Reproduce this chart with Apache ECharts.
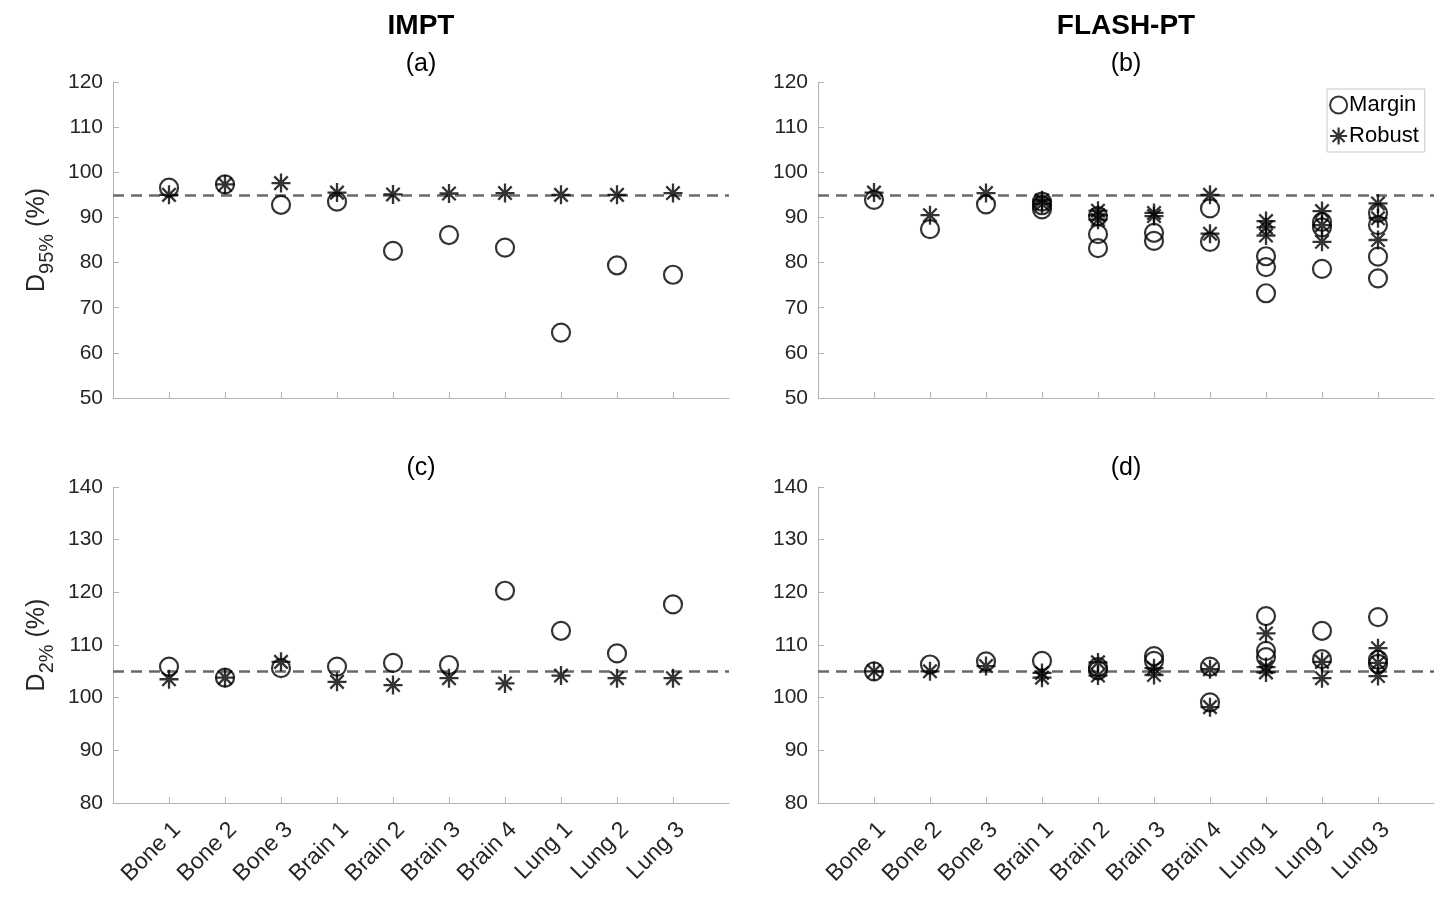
<!DOCTYPE html>
<html>
<head>
<meta charset="utf-8">
<script src="https://cdn.jsdelivr.net/npm/echarts@6/dist/echarts.min.js"></script>
<style>html,body{margin:0;padding:0;background:#fff}#c{width:1439px;height:899px}</style>
</head>
<body>
<div id="c"></div>
<script>
// ---- data ----
const categories = ['Bone 1','Bone 2','Bone 3','Brain 1','Brain 2','Brain 3','Brain 4','Lung 1','Lung 2','Lung 3'];
// (a) IMPT D95%
const imptD95Margin = [96.6, 97.3, 92.8, 93.5, 82.6, 86.1, 83.3, 64.5, 79.4, 77.3];
const imptD95Robust = [95.0, 97.3, 97.6, 95.5, 95.1, 95.3, 95.4, 95.0, 95.0, 95.4];
// (c) IMPT D2%
const imptD2Margin = [105.9, 103.8, 105.6, 105.9, 106.6, 106.2, 120.3, 112.7, 108.4, 117.7];
const imptD2Robust = [103.5, 103.8, 106.8, 103.0, 102.4, 103.7, 102.7, 104.2, 103.7, 103.7];
// (b) FLASH-PT D95% (several values per case)
const flashD95Margin = [[93.9],[87.4],[92.9],[93.5,92.7,91.8],[90.3,86.3,83.2],[86.6,84.8],[92.0,84.6],[81.4,79.0,73.2],[89.0,87.8,78.6],[91.0,88.3,81.3,76.5]];
const flashD95Robust = [[95.5],[90.5],[95.4],[93.8,93.0],[91.5,90.5,89.5],[91.0,90.3],[95.0,86.4],[89.2,87.8,86.0],[91.4,88.3,84.6],[93.1,89.8,85.0]];
// (d) FLASH-PT D2%
const flashD2Margin = [[105.0],[106.3],[106.9],[107.0],[105.8,105.2],[107.9,107.0],[105.9,99.1],[115.5,108.9,107.7],[112.7,107.3],[115.3,107.2,106.4]];
const flashD2Robust = [[105.0],[105.0],[106.0],[104.7,103.8],[106.7,104.2],[105.6,104.3],[105.4,98.2],[112.2,105.8,104.8],[106.8,103.7],[109.4,106.6,104.1]];
const refD95 = 95;
const refD2 = 105;
const yTicksD95 = [50, 120, 10];
const yTicksD2 = [80, 140, 10];

// ---- helpers ----
const FONT = "'Liberation Sans', Arial, Helvetica, sans-serif";
const TXT = '#262626';
const AX = '#b3b3b3';
const STAR = 'path://M0,-10L0,10M-10,0L10,0M-7.07,-7.07L7.07,7.07M-7.07,7.07L7.07,-7.07';
const flat1 = arr => arr.map((v, i) => [i + 1, v]);
const flatN = arr => { const out = []; arr.forEach((vs, i) => vs.forEach(v => out.push([i + 1, v]))); return out; };

const grids = [
  {left: 113, top: 82, width: 616, height: 316},
  {left: 818, top: 82, width: 616, height: 316},
  {left: 113, top: 487, width: 616, height: 316},
  {left: 818, top: 487, width: 616, height: 316}
];
const tickVals = categories.map((c, i) => i + 1);
function xAxis(gi, showLabels) {
  return {
    type: 'value', gridIndex: gi, min: 0, max: 11, interval: 1,
    axisLine: {show: true, lineStyle: {color: AX, width: 1}},
    axisTick: {show: true, inside: true, length: 6, customValues: tickVals, lineStyle: {color: AX}},
    splitLine: {show: false},
    axisLabel: {
      show: showLabels, rotate: 45, fontSize: 23, color: TXT, fontFamily: FONT, margin: 15,
      align: 'right', verticalAlign: 'top',
      customValues: tickVals,
      formatter: v => (v >= 1 && v <= 10) ? categories[v - 1] : ''
    }
  };
}
function yAxis(gi, t, nameSub) {
  return {
    type: 'value', gridIndex: gi, min: t[0], max: t[1], interval: t[2],
    axisLine: {show: true, lineStyle: {color: AX, width: 1}},
    axisTick: {show: true, inside: true, length: 6, lineStyle: {color: AX}},
    splitLine: {show: false},
    axisLabel: {fontSize: 21, color: TXT, fontFamily: FONT, margin: 10},
    name: nameSub ? '{d|D}{s|' + nameSub + '}{d| (%)}' : '',
    nameLocation: 'middle', nameRotate: 90, nameGap: 56,
    nameTextStyle: {
      color: TXT, fontFamily: FONT,
      rich: {
        d: {fontSize: 25, color: TXT, fontFamily: FONT, lineHeight: 40, verticalAlign: 'middle'},
        s: {fontSize: 20, color: TXT, fontFamily: FONT, lineHeight: 40, verticalAlign: 'bottom', padding: [18, 0, 0, 0]}
      }
    }
  };
}
function refLine(v) {
  return {
    silent: true, symbol: ['none', 'none'], label: {show: false},
    lineStyle: {type: [11, 7], color: '#6a6a6a', width: 2.5},
    data: [{yAxis: v}], z: 1
  };
}
function margin(gi, data) {
  return {
    name: 'Margin', type: 'scatter', xAxisIndex: gi, yAxisIndex: gi, data: data,
    symbol: 'circle', symbolSize: 18,
    itemStyle: {color: 'rgba(0,0,0,0)', borderColor: '#000', borderWidth: 2.2},
    emphasis: {disabled: true}, z: 3
  };
}
function robust(gi, data, ref) {
  return {
    name: 'Robust', type: 'scatter', xAxisIndex: gi, yAxisIndex: gi, data: data,
    symbol: STAR, symbolSize: 19,
    itemStyle: {color: 'rgba(0,0,0,0)', borderColor: '#000', borderWidth: 2.3},
    emphasis: {disabled: true}, z: 4,
    markLine: refLine(ref)
  };
}
function text(x, y, s, font) {
  return {type: 'text', x: x, y: y, style: {text: s, font: font, fill: '#000', align: 'center', verticalAlign: 'middle', textAlign: 'center', textVerticalAlign: 'middle'}};
}

const chart = echarts.init(document.getElementById('c'), null, {renderer: 'canvas'});
chart.setOption({
  animation: false,
  backgroundColor: '#fff',
  grid: grids,
  xAxis: [xAxis(0, false), xAxis(1, false), xAxis(2, true), xAxis(3, true)],
  yAxis: [yAxis(0, yTicksD95, '95%'), yAxis(1, yTicksD95, null), yAxis(2, yTicksD2, '2%'), yAxis(3, yTicksD2, null)],
  legend: {
    show: true, orient: 'vertical', left: 1327, top: 89,
    data: [
      {name: 'Margin', icon: 'circle', itemStyle: {color: 'rgba(0,0,0,0)', borderColor: '#000', borderWidth: 2}},
      {name: 'Robust', icon: STAR, itemStyle: {color: 'rgba(0,0,0,0)', borderColor: '#000', borderWidth: 2.2}}
    ],
    itemWidth: 17, itemHeight: 17, itemGap: 9,
    borderColor: '#c8c8c8', borderWidth: 1, padding: [5, 6, 5, 2],
    textStyle: {fontSize: 22, color: '#000', fontFamily: FONT, padding: [0, 0, 0, -3]},
    selectedMode: false
  },
  graphic: [
    text(421, 26, 'IMPT', 'bold 28px ' + FONT),
    text(1126, 26, 'FLASH-PT', 'bold 28px ' + FONT),
    text(421, 64, '(a)', '25px ' + FONT),
    text(1126, 64, '(b)', '25px ' + FONT),
    text(421, 468, '(c)', '25px ' + FONT),
    text(1126, 468, '(d)', '25px ' + FONT)
  ],
  series: [
    margin(0, flat1(imptD95Margin)), robust(0, flat1(imptD95Robust), refD95),
    margin(1, flatN(flashD95Margin)), robust(1, flatN(flashD95Robust), refD95),
    margin(2, flat1(imptD2Margin)), robust(2, flat1(imptD2Robust), refD2),
    margin(3, flatN(flashD2Margin)), robust(3, flatN(flashD2Robust), refD2)
  ]
});
</script>
</body>
</html>
